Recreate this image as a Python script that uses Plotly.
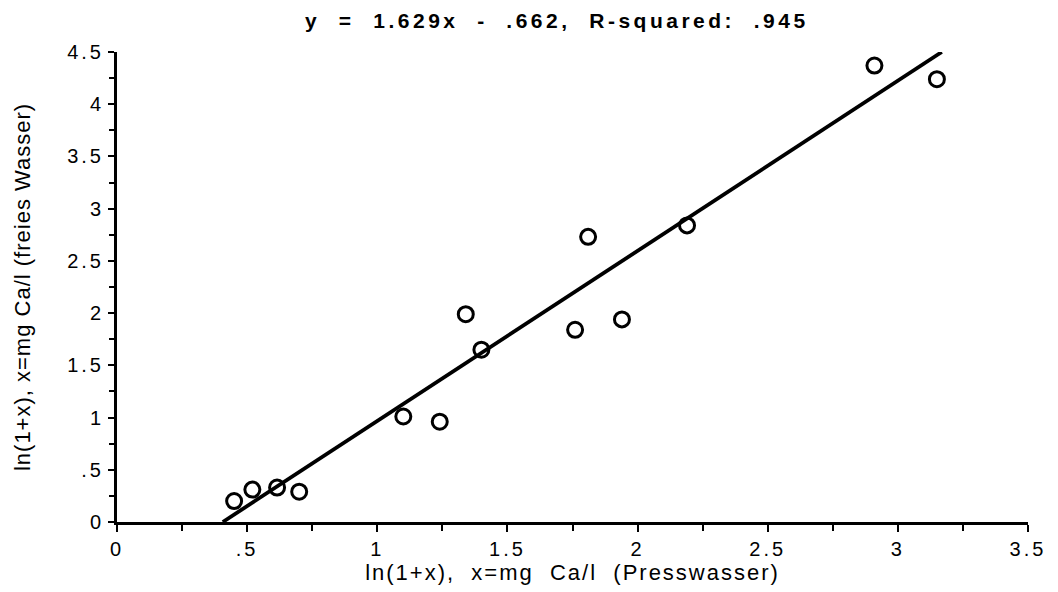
import plotly.graph_objects as go

# Calcium concentrations, ln(1+x) transformed
x_press = [0.45, 0.52, 0.615, 0.70, 1.10, 1.24, 1.34, 1.40, 1.76, 1.81, 1.94, 2.19, 2.91, 3.15]
y_frei = [0.20, 0.31, 0.33, 0.29, 1.01, 0.96, 1.99, 1.65, 1.84, 2.73, 1.94, 2.84, 4.37, 4.24]

# Regression result
slope = 1.629
intercept = -0.662
r_squared = 0.945

x_ticks = [0, 0.5, 1, 1.5, 2, 2.5, 3, 3.5]
x_ticklabels = ["0", ".5", "1", "1.5", "2", "2.5", "3", "3.5"]
y_ticks = [0, 0.5, 1, 1.5, 2, 2.5, 3, 3.5, 4, 4.5]
y_ticklabels = ["0", ".5", "1", "1.5", "2", "2.5", "3", "3.5", "4", "4.5"]

X_RANGE = [0, 3.5]
Y_RANGE = [0, 4.5]

NB = "\u00a0"
FONT = "Liberation Sans, Arial, Helvetica, sans-serif"


def spaced(s, px):
    return f'<span style="letter-spacing:{px}px">{s}</span>'


# fitted line spanning the y-range of the plot
x0 = (Y_RANGE[0] - intercept) / slope
x1 = (Y_RANGE[1] - intercept) / slope
line_x = [x0, x1]
line_y = [slope * v + intercept for v in line_x]

fig = go.Figure()
fig.add_trace(go.Scatter(
    x=line_x, y=line_y, mode="lines",
    line=dict(color="black", width=3.8),
    showlegend=False, hoverinfo="skip",
))
fig.add_trace(go.Scatter(
    x=x_press, y=y_frei, mode="markers",
    marker=dict(symbol="circle-open", size=15, color="black",
                line=dict(color="black", width=3)),
    showlegend=False, cliponaxis=False,
))

title_txt = (f"y{NB*2}={NB*2}{slope:.3f}x{NB*2}-{NB*2}{('%.3f' % abs(intercept)).lstrip('0')},"
             f"{NB*2}R-squared:{NB*2}{('%.3f' % r_squared).lstrip('0')}")

fig.update_layout(
    width=1058, height=592,
    margin=dict(l=117, r=25, t=52, b=68),
    paper_bgcolor="white", plot_bgcolor="white",
    font=dict(family=FONT, size=20, color="black"),
    annotations=[dict(
        text=f"<b>{spaced(title_txt, 3.5)}</b>",
        xref="paper", yref="paper", x=0.4825, y=1.068,
        xanchor="center", yanchor="middle", showarrow=False,
        font=dict(family=FONT, size=21, color="black"),
    )],
)

fig.update_xaxes(
    range=X_RANGE, showgrid=False, zeroline=False,
    showline=True, linecolor="black", linewidth=3,
    tickmode="array", tickvals=x_ticks, ticktext=[spaced(t, 3) for t in x_ticklabels],
    ticks="outside", ticklen=7, tickwidth=2, tickcolor="black",
    minor=dict(dtick=0.25, tick0=0, ticks="outside", ticklen=6, tickwidth=2, tickcolor="black"),
    tickfont=dict(size=20),
    title=dict(text=spaced(f"ln(1+x),{NB*2}x=mg{NB*2}Ca/l{NB*2}(Presswasser)", 2),
               font=dict(size=22), standoff=5),
)
fig.update_yaxes(
    range=Y_RANGE, showgrid=False, zeroline=False,
    showline=True, linecolor="black", linewidth=3,
    tickmode="array", tickvals=y_ticks, ticktext=[spaced(t, 3) for t in y_ticklabels],
    ticks="outside", ticklen=6, tickwidth=2, tickcolor="black",
    minor=dict(dtick=0.25, tick0=0, ticks="outside", ticklen=5, tickwidth=2, tickcolor="black"),
    tickfont=dict(size=20),
    title=dict(text=spaced("ln(1+x), x=mg Ca/l (freies Wasser)", 1),
               font=dict(size=22), standoff=31),
)

fig.write_html("out.html")
